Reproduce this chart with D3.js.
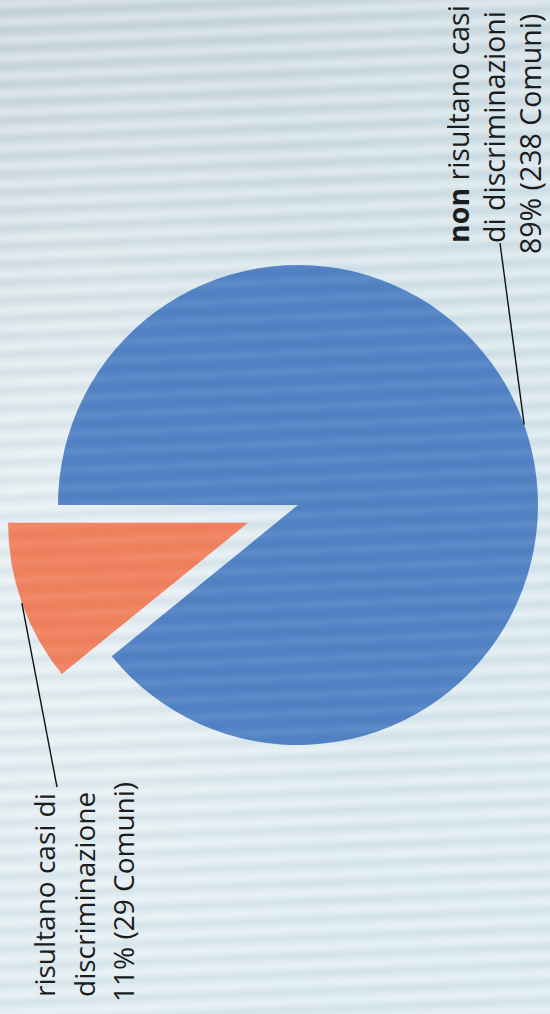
<!DOCTYPE html>
<html>
<head>
<meta charset="utf-8">
<script src="https://cdn.jsdelivr.net/npm/d3@7"></script>
<style>
  html, body { margin: 0; padding: 0; background: #d6e4ea; }
  svg { display: block; }
</style>
</head>
<body>
<script>
// ---- data ----
const categories = ["non risultano casi di discriminazioni", "risultano casi di discriminazione"];
const counts = [238, 29];
const percents = ["89%", "11%"];
const colors = ["#4f80c4", "#f07e5b"];
const rightLabelLines = [["non", " risultano casi"], ["", "di discriminazioni"], ["", percents[0] + " (" + counts[0] + " Comuni)"]];
const leftLabelLines = [["", "risultano casi di"], ["", "discriminazione"], ["", percents[1] + " (" + counts[1] + " Comuni)"]];

// ---- layout ----
const W = 550, H = 1014;
const cx = 298, cy = 505, R = 240, explode = 53;

const svg = d3.select("body").append("svg").attr("width", W).attr("height", H);
const defs = svg.append("defs");

// background gradient
const bg = defs.append("linearGradient").attr("id", "bg").attr("x1", 0).attr("y1", 0).attr("x2", 0.35).attr("y2", 1);
bg.append("stop").attr("offset", "0%").attr("stop-color", "#c4d2d9");
bg.append("stop").attr("offset", "45%").attr("stop-color", "#d2e2e9");
bg.append("stop").attr("offset", "100%").attr("stop-color", "#dae9ef");
const glow = defs.append("radialGradient").attr("id", "glow").attr("cx", 0.1).attr("cy", 0.55).attr("r", 0.6);
glow.append("stop").attr("offset", "0%").attr("stop-color", "#ffffff").attr("stop-opacity", 0.4);
glow.append("stop").attr("offset", "100%").attr("stop-color", "#ffffff").attr("stop-opacity", 0);

const blur = defs.append("filter").attr("id", "soft").attr("x", "-10%").attr("y", "-10%").attr("width", "120%").attr("height", "120%");
blur.append("feGaussianBlur").attr("stdDeviation", 2.6);

svg.append("rect").attr("width", W).attr("height", H).attr("fill", "url(#bg)");
svg.append("rect").attr("width", W).attr("height", H).attr("fill", "url(#glow)");

// soft stripes (decorative texture)
function stripes(parent, lightOp, darkOp) {
  const s = parent.append("g").attr("filter", "url(#soft)").attr("transform", "rotate(-2.2 275 507)");
  const ys = d3.range(-60, H + 60, 18);
  s.selectAll("line.l").data(ys).join("line")
    .attr("x1", -60).attr("x2", W + 60).attr("y1", d => d).attr("y2", d => d)
    .attr("stroke", "#ffffff").attr("stroke-opacity", lightOp).attr("stroke-width", 6);
  s.selectAll("line.d").data(ys).join("line")
    .attr("x1", -60).attr("x2", W + 60).attr("y1", d => d + 8).attr("y2", d => d + 8)
    .attr("stroke", "#7d95a3").attr("stroke-opacity", darkOp).attr("stroke-width", 4);
}
stripes(svg, 0.4, 0.12);

// ---- pie ----
const pie = d3.pie().sort(null).value(d => d).startAngle(-Math.PI / 2).endAngle(3 * Math.PI / 2);
const arcs = pie(counts);
const arc = d3.arc().innerRadius(0).outerRadius(R);

const offsets = arcs.map((a, i) => {
  if (i === 0) return [0, 0];
  const m = (a.startAngle + a.endAngle) / 2;
  return [explode * Math.sin(m), -explode * Math.cos(m)];
});

const g = svg.append("g").attr("transform", `translate(${cx},${cy})`);
g.selectAll("path.slice").data(arcs).join("path")
  .attr("class", "slice")
  .attr("d", arc)
  .attr("fill", (d, i) => colors[i])
  .attr("transform", (d, i) => `translate(${offsets[i][0]},${offsets[i][1]})`);

// subtle stripe sheen on the pie, clipped to slices
const clip = defs.append("clipPath").attr("id", "pieclip");
clip.selectAll("path").data(arcs).join("path")
  .attr("d", arc)
  .attr("transform", (d, i) => `translate(${cx + offsets[i][0]},${cy + offsets[i][1]})`);
const sheen = svg.append("g").attr("clip-path", "url(#pieclip)");
stripes(sheen, 0.10, 0.05);

// ---- labels (rotated, reading bottom to top) ----
const fontFamily = "'Open Sans', 'Noto Sans', sans-serif";
const rightPos = { x0: 469, dx: 36, ys: [243, 243, 254], size: 28.5 };
const leftPos = { x0: 55, dx: 39.5, ys: [997, 997, 1002], size: 28 };

function drawLabel(lines, pos) {
  lines.forEach((ln, i) => {
    const t = svg.append("text")
      .attr("transform", `translate(${pos.x0 + i * pos.dx},${pos.ys[i]}) rotate(-90)`)
      .attr("font-family", fontFamily)
      .attr("font-size", pos.size)
      .attr("fill", "#1c1c1c");
    if (ln[0]) t.append("tspan").attr("font-weight", 700).text(ln[0]);
    t.append("tspan").text(ln[1]);
  });
}
drawLabel(rightLabelLines, rightPos);
drawLabel(leftLabelLines, leftPos);

// ---- leader lines from arc midpoints ----
function arcPoint(a, i) {
  const m = (a.startAngle + a.endAngle) / 2;
  return [cx + offsets[i][0] + R * Math.sin(m), cy + offsets[i][1] - R * Math.cos(m)];
}
const leaderEnds = [[500, 243], [57, 787]];
arcs.forEach((a, i) => {
  const p = arcPoint(a, i);
  svg.append("line")
    .attr("x1", p[0]).attr("y1", p[1])
    .attr("x2", leaderEnds[i][0]).attr("y2", leaderEnds[i][1])
    .attr("stroke", "#111").attr("stroke-width", 1.4);
});
</script>
</body>
</html>
